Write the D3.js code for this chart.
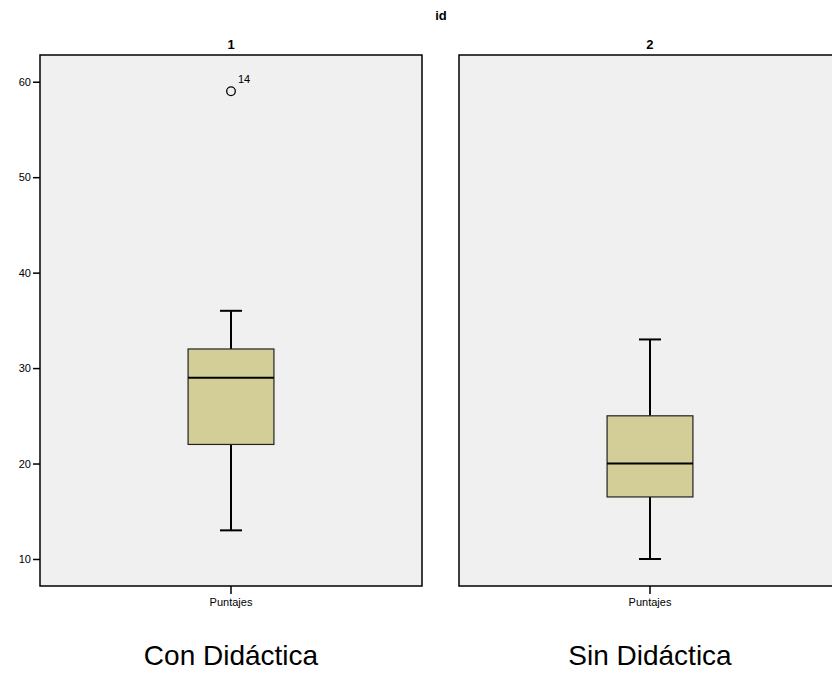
<!DOCTYPE html>
<html>
<head>
<meta charset="utf-8">
<script src="https://cdn.jsdelivr.net/npm/d3@7"></script>
<style>
  body { margin: 0; background: #fff; }
  text { font-family: "Liberation Sans", Arial, sans-serif; }
</style>
</head>
<body>
<script>
// facet ids and captions under each panel
let groups = ['1', '2'];
let captions = ['Con Didáctica', 'Sin Didáctica'];
let variable = ['Puntajes'];

// box plot summary
let whiskerLow = [13, 10];
let q1 = [22, 16.5];
let median = [29, 20];
let q3 = [32, 25];
let whiskerHigh = [36, 33];
let outliers = [[{ value: 59, label: '14' }], []];

let yTicks = [10, 20, 30, 40, 50, 60];

let W = 832, H = 690;
let panelTop = 55, panelBottom = 586;

let svg = d3.select('body').append('svg')
  .attr('width', W)
  .attr('height', H);

// y scale shared by both panels
let y = d3.scaleLinear()
  .domain([7.17, 62.8])
  .range([panelBottom, panelTop]);

// panel positions, second panel runs off the right edge
let fx = d3.scaleBand()
  .domain(groups)
  .range([40, 841])
  .paddingInner(0.0883);

// overall facet title
svg.append('text')
  .attr('x', 441).attr('y', 20)
  .attr('text-anchor', 'middle')
  .attr('font-size', 13).attr('font-weight', 'bold')
  .text('id');

groups.forEach(function (g, i) {
  let x0 = fx(g);
  let pw = fx.bandwidth();
  let panel = svg.append('g').attr('transform', 'translate(' + x0 + ',0)');

  let x = d3.scaleBand().domain(variable).range([0, pw]).padding(0.633);
  let cx = x('Puntajes') + x.bandwidth() / 2;

  panel.append('rect')
    .attr('x', 0).attr('y', panelTop)
    .attr('width', pw).attr('height', panelBottom - panelTop)
    .attr('fill', '#f0f0f0')
    .attr('stroke', '#000').attr('stroke-width', 1.5);

  // panel title
  panel.append('text')
    .attr('x', cx).attr('y', 49)
    .attr('text-anchor', 'middle')
    .attr('font-size', 13).attr('font-weight', 'bold')
    .text(g);

  // y axis only on the first panel
  if (i === 0) {
    let yAxis = d3.axisLeft(y).tickValues(yTicks).tickSize(7).tickPadding(2);
    let ga = panel.append('g').call(yAxis);
    ga.select('.domain').remove();
    ga.selectAll('line').attr('stroke', '#000').attr('stroke-width', 1.5);
    ga.selectAll('text').attr('font-size', 11).attr('fill', '#000')
      .attr('font-family', '"Liberation Sans", Arial, sans-serif');
  }

  // x axis with the variable name
  let xAxis = d3.axisBottom(x).tickSize(8).tickPadding(4);
  let gx = panel.append('g').attr('transform', 'translate(0,' + panelBottom + ')').call(xAxis);
  gx.select('.domain').remove();
  gx.selectAll('line').attr('stroke', '#000').attr('stroke-width', 1.5);
  gx.selectAll('text').attr('font-size', 11).attr('fill', '#000')
    .attr('font-family', '"Liberation Sans", Arial, sans-serif');

  // whiskers
  let capW = 22;
  panel.append('line')
    .attr('x1', cx).attr('x2', cx)
    .attr('y1', y(whiskerHigh[i])).attr('y2', y(q3[i]))
    .attr('stroke', '#000').attr('stroke-width', 2);
  panel.append('line')
    .attr('x1', cx).attr('x2', cx)
    .attr('y1', y(q1[i])).attr('y2', y(whiskerLow[i]))
    .attr('stroke', '#000').attr('stroke-width', 2);
  [whiskerHigh[i], whiskerLow[i]].forEach(function (v) {
    panel.append('line')
      .attr('x1', cx - capW / 2).attr('x2', cx + capW / 2)
      .attr('y1', y(v)).attr('y2', y(v))
      .attr('stroke', '#000').attr('stroke-width', 2);
  });

  // box
  panel.append('rect')
    .attr('x', x('Puntajes')).attr('y', y(q3[i]))
    .attr('width', x.bandwidth()).attr('height', y(q1[i]) - y(q3[i]))
    .attr('fill', '#d3ce97')
    .attr('stroke', '#222').attr('stroke-width', 1.2);
  panel.append('line')
    .attr('x1', x('Puntajes')).attr('x2', x('Puntajes') + x.bandwidth())
    .attr('y1', y(median[i])).attr('y2', y(median[i]))
    .attr('stroke', '#000').attr('stroke-width', 2);

  // outliers
  outliers[i].forEach(function (o) {
    panel.append('circle')
      .attr('cx', cx).attr('cy', y(o.value)).attr('r', 4.3)
      .attr('fill', 'none').attr('stroke', '#000').attr('stroke-width', 1.3);
    panel.append('text')
      .attr('x', cx + 7).attr('y', y(o.value) - 8)
      .attr('font-size', 11)
      .text(o.label);
  });

  // caption below the panel
  svg.append('text')
    .attr('x', x0 + cx).attr('y', 665)
    .attr('text-anchor', 'middle')
    .attr('font-size', 28)
    .text(captions[i]);
});
</script>
</body>
</html>
